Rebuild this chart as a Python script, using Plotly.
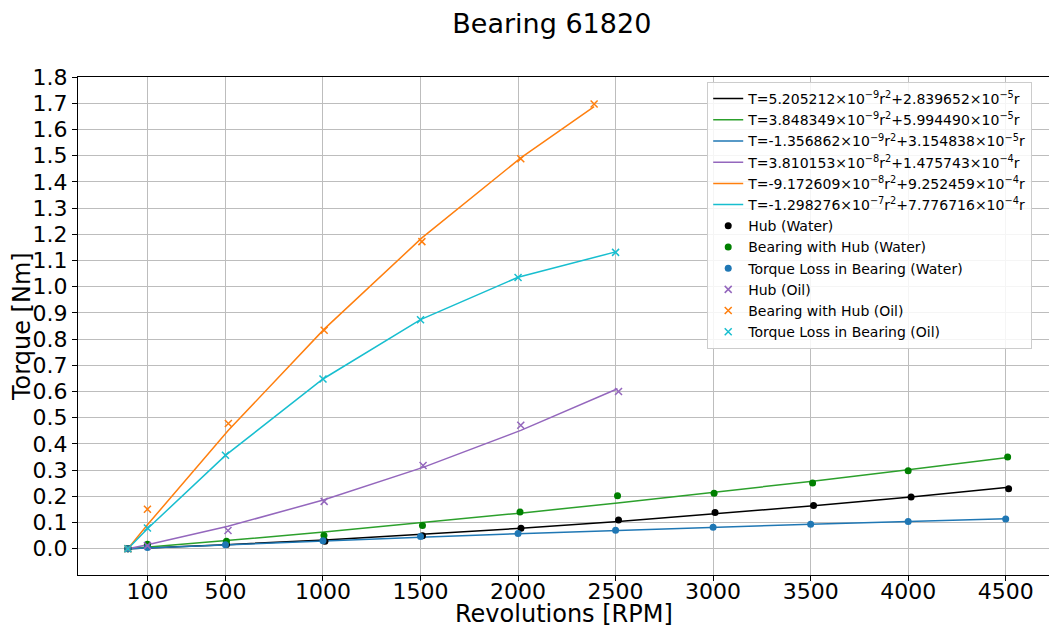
import plotly.graph_objects as go

# ---------------- data ----------------
# Water: measured points
hub_water_x = [0, 100, 505, 1010, 1510, 2015, 2515, 3010, 3515, 4015, 4515]
hub_water_y = [0.0, 0.011, 0.016, 0.029, 0.050, 0.078, 0.110, 0.138, 0.165, 0.198, 0.229]
bwh_water_x = [0, 100, 505, 1005, 1510, 2010, 2510, 3005, 3510, 4000, 4510]
bwh_water_y = [0.0, 0.017, 0.029, 0.051, 0.089, 0.140, 0.202, 0.212, 0.251, 0.298, 0.350]
loss_water_x = [0, 100, 500, 1000, 1500, 2000, 2500, 3000, 3500, 4000, 4500]
loss_water_y = [0.0, 0.005, 0.015, 0.031, 0.047, 0.058, 0.071, 0.0825, 0.094, 0.104, 0.114]

# Oil: measured points
hub_oil_x = [0, 100, 513, 1006, 1513, 2014, 2515]
hub_oil_y = [0.0, 0.012, 0.070, 0.181, 0.318, 0.471, 0.600]
bwh_oil_x = [0, 100, 515, 1006, 1507, 2014, 2390]
bwh_oil_y = [0.0, 0.151, 0.478, 0.834, 1.172, 1.488, 1.697]
loss_oil_x = [0, 100, 500, 1000, 1500, 2000, 2500]
loss_oil_y = [0.0, 0.079, 0.357, 0.648, 0.874, 1.035, 1.131]

# Fitted curves (values of the legend polynomials at the measured revolutions)
fit_hub_water_y = [0.0, 0.002892, 0.015668, 0.033990, 0.054748, 0.078353, 0.104342,
                   0.132634, 0.164126, 0.197921, 0.234319]
fit_bwh_water_y = [0.0, 0.006033, 0.031254, 0.064132, 0.099292, 0.136037, 0.174707,
                   0.214885, 0.257819, 0.301354, 0.348627]
fit_loss_water_y = [0.0, 0.003141, 0.015435, 0.030192, 0.044270, 0.057669, 0.070390,
                    0.082433, 0.093797, 0.104484, 0.114492]
fit_hub_oil_x = [0, 100, 513, 1006, 1513, 2014, 2510]
fit_hub_oil_y = [0.0, 0.015138, 0.085733, 0.187020, 0.310501, 0.451762, 0.610455]
fit_bwh_oil_y = [0.0, 0.091608, 0.452174, 0.837967, 1.186031, 1.491386, 1.687388]
fit_loss_oil_y = [0.0, 0.076469, 0.356379, 0.647844, 0.874395, 1.036033, 1.132756]

fit_labels = [
    "T=5.205212×10<sup>−9</sup>r<sup>2</sup>+2.839652×10<sup>−5</sup>r",
    "T=3.848349×10<sup>−9</sup>r<sup>2</sup>+5.994490×10<sup>−5</sup>r",
    "T=-1.356862×10<sup>−9</sup>r<sup>2</sup>+3.154838×10<sup>−5</sup>r",
    "T=3.810153×10<sup>−8</sup>r<sup>2</sup>+1.475743×10<sup>−4</sup>r",
    "T=-9.172609×10<sup>−8</sup>r<sup>2</sup>+9.252459×10<sup>−4</sup>r",
    "T=-1.298276×10<sup>−7</sup>r<sup>2</sup>+7.776716×10<sup>−4</sup>r",
]
point_labels = [
    "Hub (Water)", "Bearing with Hub (Water)", "Torque Loss in Bearing (Water)",
    "Hub (Oil)", "Bearing with Hub (Oil)", "Torque Loss in Bearing (Oil)",
]

x_ticks = [100, 500, 1000, 1500, 2000, 2500, 3000, 3500, 4000, 4500]
y_ticks = [round(i * 0.1, 1) for i in range(19)]
y_tick_text = [f"{v:.1f}" for v in y_ticks]

# ---------------- figure ----------------
line_colors = ["black", "#2ca02c", "#1f77b4", "#9467bd", "#ff7f0e", "#17becf"]
marker_colors = ["black", "#008000", "#1f77b4", "#9467bd", "#ff7f0e", "#17becf"]

fit_x = [hub_water_x, bwh_water_x, loss_water_x, fit_hub_oil_x, bwh_oil_x, loss_oil_x]
fit_y = [fit_hub_water_y, fit_bwh_water_y, fit_loss_water_y, fit_hub_oil_y, fit_bwh_oil_y, fit_loss_oil_y]
pts_x = [hub_water_x, bwh_water_x, loss_water_x, hub_oil_x, bwh_oil_x, loss_oil_x]
pts_y = [hub_water_y, bwh_water_y, loss_water_y, hub_oil_y, bwh_oil_y, loss_oil_y]

fig = go.Figure()
for xs, ys, lab, col in zip(fit_x, fit_y, fit_labels, line_colors):
    fig.add_trace(go.Scatter(x=xs, y=ys, mode="lines", name=lab,
                             line=dict(color=col, width=1.5)))
for i, (xs, ys, lab, col) in enumerate(zip(pts_x, pts_y, point_labels, marker_colors)):
    if i < 3:
        marker = dict(symbol="circle", size=7, color=col)
    else:
        marker = dict(symbol="x-thin", size=7, color=col, line=dict(width=1.5, color=col))
    fig.add_trace(go.Scatter(x=xs, y=ys, mode="markers", name=lab, marker=marker))

font_family = "DejaVu Sans"
fig.update_layout(
    width=1049, height=627,
    margin=dict(l=78, r=0, t=77, b=52, autoexpand=False),
    paper_bgcolor="white", plot_bgcolor="white",
    font=dict(family=font_family, color="black", size=14),
    title=dict(text="Bearing 61820", x=0.488, xref="paper", y=0.962, yanchor="middle",
               xanchor="center", font=dict(size=27, family=font_family, color="black")),
    legend=dict(x=0.648, y=0.99, xanchor="left", yanchor="top",
                bgcolor="rgba(255,255,255,0.85)", bordercolor="#cccccc", borderwidth=1,
                font=dict(size=14, family=font_family, color="black")),
    showlegend=True,
    annotations=[
        dict(text="Revolutions [RPM]", xref="paper", yref="paper", x=0.5, y=-0.079,
             xanchor="center", yanchor="middle", showarrow=False,
             font=dict(size=24, family=font_family, color="black")),
        dict(text="Torque [Nm]", xref="paper", yref="paper", x=-0.0577, y=0.5,
             xanchor="center", yanchor="middle", showarrow=False, textangle=-90,
             font=dict(size=24, family=font_family, color="black")),
    ],
)
fig.update_xaxes(
    range=[-256, 4722], tickvals=x_ticks, ticktext=[str(v) for v in x_ticks],
    showgrid=True, gridcolor="#bdbdbd", gridwidth=1.2,
    showline=True, linecolor="black", linewidth=1, mirror=True,
    ticks="outside", ticklen=5, tickcolor="black", ticklabelstandoff=-8,
    tickfont=dict(size=22, family=font_family),
    automargin=False, zeroline=False,
)
fig.update_yaxes(
    range=[-0.1, 1.8], tickvals=y_ticks, ticktext=y_tick_text,
    showgrid=True, gridcolor="#bdbdbd", gridwidth=1.2,
    showline=True, linecolor="black", linewidth=1,
    ticks="outside", ticklen=5, tickcolor="black",
    tickfont=dict(size=22, family=font_family),
    automargin=False, zeroline=False,
)

fig.write_html("out.html")
